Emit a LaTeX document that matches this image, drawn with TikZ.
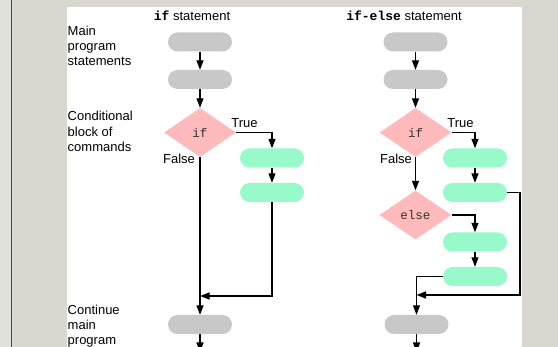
\documentclass[tikz,border=0pt]{standalone}
\usepackage{fontspec}
\setmainfont{Liberation Sans}
\setmonofont{Liberation Mono}
\usetikzlibrary{shapes.geometric,arrows.meta}

\definecolor{slidebg}{HTML}{D8D8D0}
\definecolor{slideedge}{HTML}{E2E2DC}
\definecolor{stmtgray}{HTML}{C8C8C8}
\definecolor{blockgreen}{HTML}{98FACB}
\definecolor{condpink}{HTML}{FFBBBB}

\tikzset{
  txt/.style={font=\fontsize{13}{15.4}\selectfont, inner sep=0pt},
  stmt/.style={fill=stmtgray, rounded corners=9.5pt, minimum width=64pt, minimum height=19pt, inner sep=0pt},
  block/.style={fill=blockgreen, rounded corners=9.5pt, minimum width=64pt, minimum height=19pt, inner sep=0pt},
  cond/.style={diamond, fill=condpink, minimum width=72pt, minimum height=49pt, inner sep=0pt,
    font=\ttfamily\fontsize{12.5}{14}\selectfont, text=black!80},
  flow/.style={line width=1.4pt, -{Triangle[length=9.5pt,width=7pt]}},
  side/.style={txt, align=left, anchor=north west},
}

\begin{document}
\begin{tikzpicture}[x=1pt,y=-1pt]
  \useasboundingbox (0,0) rectangle (558,347);
  % slide background and page
  \fill[slidebg] (0,0) rectangle (558,347);
  \fill[slideedge] (0,0) rectangle (11,347);
  \draw[black!70, line width=0.8pt] (11.4,0) -- (11.4,347);
  \fill[white] (67,7) rectangle (522,347);

  % headings
  \node[txt] (ttl1) at (192,15.5) {\textbf{\ttfamily if} statement};
  \node[txt] (ttl2) at (404,15.5) {\textbf{\ttfamily if-else} statement};

  % side captions
  \node[side] (lab1) at (67.5,25.5) {Main\\program\\statements};
  \node[side] (lab2) at (67.5,111) {Conditional\\block of\\commands};
  \node[side] (lab3) at (67.5,304.5) {Continue\\main\\program};

  % ---- if statement ----
  \node[stmt] (a1) at (200,42) {};
  \node[stmt] (a2) at (200,79.5) {};
  \node[cond] (c1) at (200,132.5) {if};
  \node[block] (b1) at (272,158) {};
  \node[block] (b2) at (272,192.5) {};
  \node[stmt] (a3) at (200,324.5) {};
  \coordinate (m1) at (200,296);
  \coordinate (o1) at (200,352);

  \node[txt] (tr1) at (244.5,123) {True};
  \node[txt] (fa1) at (179,158.5) {False};

  \draw[flow] (a1) -- (a2);
  \draw[flow] (a2) -- (c1);
  \draw[flow] (c1.east) -| (b1.north);
  \draw[flow] (b1) -- (b2);
  \draw[flow] (c1.south) -- (a3.north);
  \draw[flow] (b2.south) |- (m1);
  \draw[flow] (a3.south) -- (o1);

  % ---- if-else statement ----
  \node[stmt] (e1) at (415.5,42) {};
  \node[stmt] (e2) at (415.5,79.5) {};
  \node[cond] (c2) at (415.5,132.5) {if};
  \node[block] (f1) at (475,158) {};
  \node[block] (f2) at (475,192.5) {};
  \node[cond] (c3) at (415.5,215) {else};
  \node[block] (f3) at (475,242) {};
  \node[block] (f4) at (475,276.5) {};
  \node[stmt] (e3) at (416.5,324.5) {};
  \coordinate (r1) at (520,192.5);
  \coordinate (m2) at (416.5,295);
  \coordinate (o2) at (416.5,352);

  \node[txt] (tr2) at (460.5,123) {True};
  \node[txt] (fa2) at (396,158.5) {False};

  \draw[flow] (e1) -- (e2);
  \draw[flow] (e2) -- (c2);
  \draw[flow] (c2.east) -| (f1.north);
  \draw[flow] (f1) -- (f2);
  \draw[flow] (c2.south) -- (c3.north);
  \draw[flow] (c3.east) -| (f3.north);
  \draw[flow] (f3) -- (f4);
  \draw[flow] (f4.west) -| (e3.north);
  \draw[flow] (f2.east) -- (r1) |- (m2);
  \draw[flow] (e3.south) -- (o2);
\end{tikzpicture}
\end{document}
